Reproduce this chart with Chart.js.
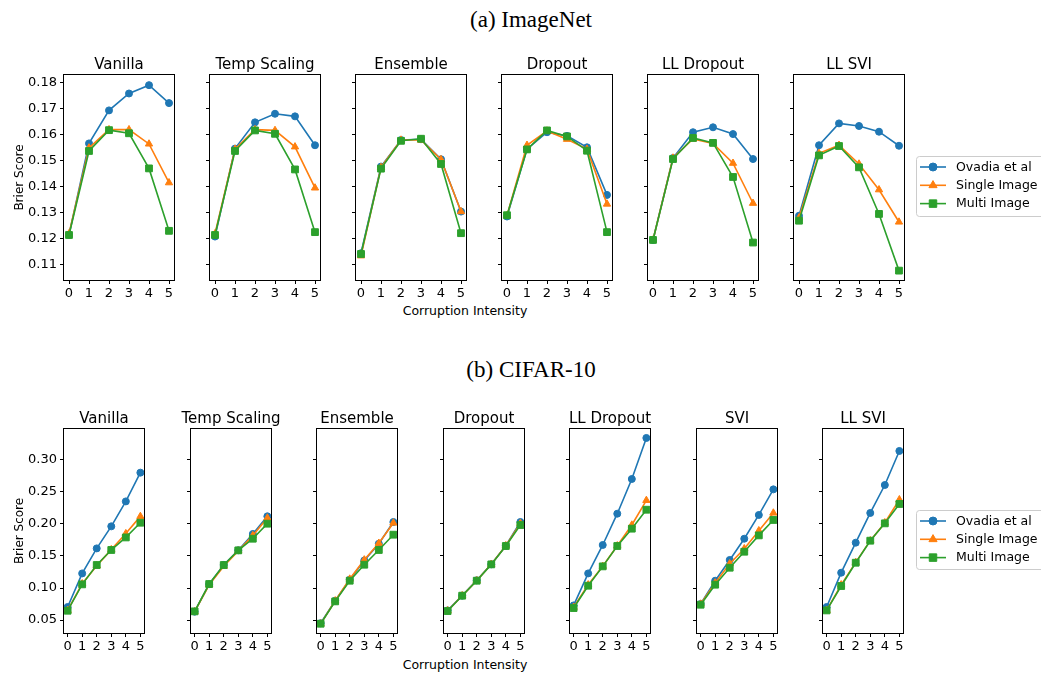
<!DOCTYPE html>
<html>
<head>
<meta charset="utf-8">
<script src="https://cdn.jsdelivr.net/npm/chart.js@4.4.0/dist/chart.umd.min.js"></script>
<style>
  body { margin: 0; background: #fff; }
  #fig { position: relative; width: 1041px; height: 673px; overflow: hidden; }
  #fig canvas { position: absolute; }
  .head { position: absolute; transform: translate(-50%, -50%); font-family: "Liberation Serif", serif; font-size: 23px; line-height: 1; white-space: nowrap; color: #000; }
  .xlab { position: absolute; transform: translate(-50%, -50%); font-family: "DejaVu Sans", sans-serif; font-size: 12.5px; line-height: 1; white-space: nowrap; color: #000; }
</style>
</head>
<body>
<div id="fig">
  <div class="head" style="left:531px; top:19px">(a) ImageNet</div>
  <div class="head" style="left:531px; top:369px">(b) CIFAR-10</div>
  <div class="xlab" style="left:465px; top:311px">Corruption Intensity</div>
  <div class="xlab" style="left:465px; top:665px">Corruption Intensity</div>
</div>
<script>
// ---- data ----
var intensity = [0, 1, 2, 3, 4, 5];
var seriesNames = ["Ovadia et al", "Single Image", "Multi Image"];

var imagenetMethods = ["Vanilla", "Temp Scaling", "Ensemble", "Dropout", "LL Dropout", "LL SVI"];
var imagenetOvadia = [
  [0.1215, 0.1567, 0.1694, 0.1759, 0.1791, 0.1722],
  [0.1209, 0.1547, 0.1648, 0.1681, 0.1671, 0.1560],
  [0.1145, 0.1478, 0.1580, 0.1583, 0.1506, 0.1305],
  [0.1286, 0.1545, 0.1610, 0.1596, 0.1552, 0.1369],
  [0.1196, 0.1511, 0.1610, 0.1629, 0.1603, 0.1507],
  [0.1289, 0.1560, 0.1644, 0.1634, 0.1612, 0.1558]
];
var imagenetSingle = [
  [0.1220, 0.1550, 0.1620, 0.1620, 0.1565, 0.1416],
  [0.1220, 0.1545, 0.1620, 0.1617, 0.1554, 0.1396],
  [0.1135, 0.1475, 0.1580, 0.1580, 0.1505, 0.1305],
  [0.1290, 0.1560, 0.1615, 0.1583, 0.1545, 0.1334],
  [0.1196, 0.1511, 0.1584, 0.1567, 0.1491, 0.1337],
  [0.1281, 0.1529, 0.1560, 0.1488, 0.1389, 0.1265]
];
var imagenetMulti = [
  [0.1215, 0.1538, 0.1618, 0.1606, 0.1471, 0.1231],
  [0.1215, 0.1538, 0.1617, 0.1604, 0.1467, 0.1226],
  [0.1142, 0.1470, 0.1577, 0.1585, 0.1488, 0.1222],
  [0.1291, 0.1544, 0.1617, 0.1594, 0.1539, 0.1226],
  [0.1196, 0.1507, 0.1588, 0.1569, 0.1438, 0.1186],
  [0.1270, 0.1521, 0.1557, 0.1475, 0.1296, 0.1078]
];
var imagenetTicks = ["0.11", "0.12", "0.13", "0.14", "0.15", "0.16", "0.17", "0.18"];

var cifarMethods = ["Vanilla", "Temp Scaling", "Ensemble", "Dropout", "LL Dropout", "SVI", "LL SVI"];
var cifarOvadia = [
  [0.0703, 0.1228, 0.1619, 0.1963, 0.2353, 0.2802],
  [0.0630, 0.1060, 0.1360, 0.1590, 0.1844, 0.2120],
  [0.0450, 0.0800, 0.1130, 0.1430, 0.1692, 0.2031],
  [0.0650, 0.0880, 0.1120, 0.1370, 0.1660, 0.2031],
  [0.0728, 0.1228, 0.1672, 0.2161, 0.2703, 0.3344],
  [0.0750, 0.1114, 0.1438, 0.1770, 0.2141, 0.2541],
  [0.0703, 0.1239, 0.1708, 0.2172, 0.2609, 0.3141]
];
var cifarSingle = [
  [0.0650, 0.1067, 0.1349, 0.1600, 0.1850, 0.2119],
  [0.0630, 0.1050, 0.1340, 0.1580, 0.1820, 0.2094],
  [0.0440, 0.0800, 0.1140, 0.1440, 0.1700, 0.2016],
  [0.0645, 0.0880, 0.1115, 0.1370, 0.1660, 0.2010],
  [0.0700, 0.1050, 0.1340, 0.1660, 0.1984, 0.2369],
  [0.0750, 0.1080, 0.1380, 0.1614, 0.1895, 0.2172],
  [0.0650, 0.1050, 0.1400, 0.1740, 0.2020, 0.2380]
];
var cifarMulti = [
  [0.0645, 0.1057, 0.1359, 0.1594, 0.1790, 0.2020],
  [0.0635, 0.1062, 0.1359, 0.1588, 0.1770, 0.2005],
  [0.0442, 0.0791, 0.1114, 0.1364, 0.1594, 0.1833],
  [0.0640, 0.0880, 0.1114, 0.1369, 0.1656, 0.1984],
  [0.0687, 0.1036, 0.1338, 0.1656, 0.1927, 0.2223],
  [0.0739, 0.1052, 0.1317, 0.1567, 0.1822, 0.2063],
  [0.0650, 0.1031, 0.1395, 0.1739, 0.2010, 0.2313]
];
var cifarTicks = ["0.05", "0.10", "0.15", "0.20", "0.25", "0.30"];

// ---- look ----
var colors = ["#1f77b4", "#ff7f0e", "#2ca02c"];
var markers = ["circle", "triangle", "rect"];
var markerRadius = [3.5, 4.2, 4.8];
var FONT = "'DejaVu Sans', sans-serif";

Chart.defaults.font.family = FONT;
Chart.defaults.color = "#000";
Chart.defaults.animation = false;

// full box round the plot (matplotlib spines) + panel title centred on the plot
var panelPlugin = {
  id: "panel",
  afterDraw: function(chart, args, opts) {
    var a = chart.chartArea, ctx = chart.ctx;
    ctx.save();
    ctx.strokeStyle = "#000";
    ctx.lineWidth = 1;
    ctx.strokeRect(Math.round(a.left) - 0.5, Math.round(a.top) - 0.5,
                   Math.round(a.right) - Math.round(a.left) + 1, Math.round(a.bottom) - Math.round(a.top) + 1);
    ctx.fillStyle = "#000";
    ctx.font = "15px " + FONT;
    ctx.textAlign = "center";
    ctx.textBaseline = "alphabetic";
    ctx.fillText(opts.title, (a.left + a.right) / 2, a.top - 6);
    ctx.restore();
  }
};

function drawMarker(ctx, style, x, y, r) {
  ctx.beginPath();
  if (style === "circle") {
    ctx.arc(x, y, r, 0, Math.PI * 2);
  } else if (style === "triangle") {
    ctx.moveTo(x, y - r);
    ctx.lineTo(x + r * 0.866, y + r * 0.5);
    ctx.lineTo(x - r * 0.866, y + r * 0.5);
    ctx.closePath();
  } else {
    var s = r * Math.SQRT1_2;
    ctx.rect(x - s, y - s, 2 * s, 2 * s);
  }
  ctx.fill();
  ctx.stroke();
}

// matplotlib-style legend: line with marker in the middle
var figLegendPlugin = {
  id: "figLegend",
  afterDraw: function(chart, args, opts) {
    var ctx = chart.ctx;
    var x0 = opts.left, y0 = opts.top;
    ctx.save();
    ctx.fillStyle = "rgba(255,255,255,0.8)";
    ctx.strokeStyle = "#cccccc";
    ctx.lineWidth = 1;
    ctx.beginPath();
    ctx.roundRect(x0 + 0.5, y0 + 0.5, 140, opts.height, 3);
    ctx.fill();
    ctx.stroke();
    chart.data.datasets.forEach(function(ds, k) {
      var y = y0 + 11 + k * 18.3;
      ctx.strokeStyle = ds.borderColor;
      ctx.fillStyle = ds.backgroundColor;
      ctx.lineWidth = 1.6;
      ctx.beginPath();
      ctx.moveTo(x0 + 4, y);
      ctx.lineTo(x0 + 30, y);
      ctx.stroke();
      ctx.lineWidth = 1;
      drawMarker(ctx, ds.pointStyle, x0 + 17, y, ds.pointRadius + 0.5);
      ctx.fillStyle = "#000";
      ctx.font = "12.5px " + FONT;
      ctx.textBaseline = "middle";
      ctx.fillText(ds.label, x0 + 40, y + 0.5);
    });
    ctx.restore();
  }
};

var rows = [
  { methods: imagenetMethods, series: [imagenetOvadia, imagenetSingle, imagenetMulti], ticks: imagenetTicks,
    yMin: 0.1042, yMax: 0.1830, left0: 64, step: 146, w: 110, top: 75, h: 205, legendTop: 156, legendH: 60 },
  { methods: cifarMethods, series: [cifarOvadia, cifarSingle, cifarMulti], ticks: cifarTicks,
    yMin: 0.0297, yMax: 0.3484, left0: 64, step: 126.5, w: 80, top: 429, h: 204, legendTop: 510, legendH: 59 }
];

var fig = document.getElementById("fig");

rows.forEach(function(row) {
  row.methods.forEach(function(name, i) {
    var left = row.left0 + Math.round(row.step * i);
    var first = i === 0;
    var last = i === row.methods.length - 1;
    var yW = first ? 51 : 4;
    var padL = first ? 0 : 16;
    var titleH = 30, xH = 24;
    var padR = last ? 1041 - (left + row.w) : 16;

    var cv = document.createElement("canvas");
    cv.width = padL + yW + row.w + padR;
    cv.height = titleH + row.h + xH;
    cv.style.left = (left - yW - padL) + "px";
    cv.style.top = (row.top - titleH) + "px";
    fig.appendChild(cv);

    var datasets = row.series.map(function(vals, k) {
      return {
        label: seriesNames[k],
        data: intensity.map(function(x, j) { return { x: x, y: vals[i][j] }; }),
        borderColor: colors[k],
        backgroundColor: colors[k],
        pointBackgroundColor: colors[k],
        pointBorderColor: colors[k],
        pointStyle: markers[k],
        pointRadius: markerRadius[k],
        pointBorderWidth: 1,
        borderWidth: 1.6,
        tension: 0,
        order: 3 - k
      };
    });

    var plugins = [panelPlugin];
    if (last) plugins.push(figLegendPlugin);

    new Chart(cv, {
      type: "line",
      data: { datasets: datasets },
      plugins: plugins,
      options: {
        responsive: false,
        layout: { padding: { left: padL, right: padR, top: titleH, bottom: 0 } },
        plugins: {
          legend: { display: false },
          tooltip: { enabled: false },
          title: { display: false },
          panel: { title: name },
          figLegend: { left: 916 - (left - yW - padL), top: row.legendTop - (row.top - titleH), height: row.legendH }
        },
        scales: {
          x: {
            type: "linear", min: -0.25, max: 5.25,
            afterBuildTicks: function(s) { s.ticks = intensity.map(function(v) { return { value: v }; }); },
            afterFit: function(s) { s.height = xH; },
            ticks: { font: { size: 13 }, padding: 2, maxRotation: 0, autoSkip: false, color: "#000",
                     callback: function(v) { return String(v); } },
            grid: { display: true, drawOnChartArea: false, drawTicks: true, tickLength: 4, color: "#000" },
            border: { display: false }
          },
          y: {
            type: "linear", min: row.yMin, max: row.yMax,
            afterBuildTicks: function(s) { s.ticks = row.ticks.map(function(t) { return { value: parseFloat(t) }; }); },
            afterFit: function(s) { s.width = yW; },
            ticks: { display: first, font: { size: 13 }, padding: 3, color: "#000",
                     callback: function(v, idx) { return row.ticks[idx]; } },
            grid: { display: true, drawOnChartArea: false, drawTicks: true, tickLength: 4, color: "#000" },
            border: { display: false },
            title: { display: first, text: "Brier Score", font: { size: 12 }, color: "#000", padding: { top: 0, bottom: 0 } }
          }
        }
      }
    });
  });
});
</script>
</body>
</html>
